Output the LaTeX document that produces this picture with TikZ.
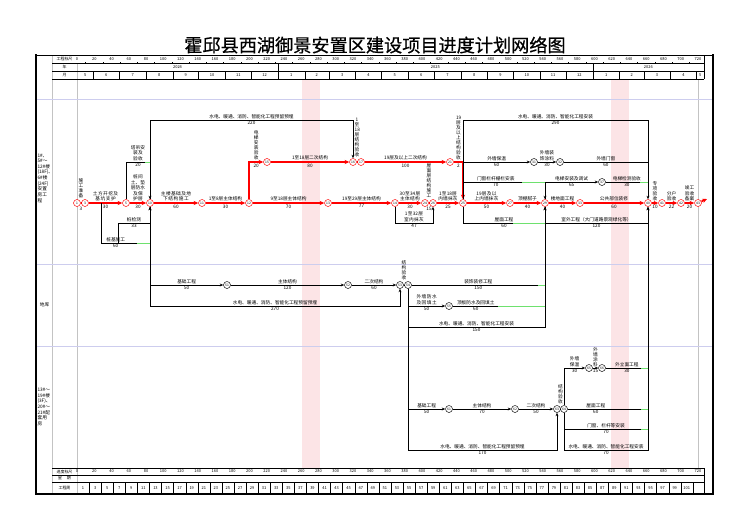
\documentclass[tikz,border=0pt]{standalone}
\usepackage{fontspec}
\setmainfont{Noto Sans CJK SC}
\newfontfamily\titlefont[FakeBold=0.6]{Noto Sans CJK SC}
\XeTeXlinebreaklocale "zh"
\XeTeXlinebreakskip=0pt plus 0.5pt
\usetikzlibrary{arrows.meta,positioning,calc}
\definecolor{netred}{RGB}{255,0,0}
\definecolor{bandpink}{RGB}{252,228,230}
\definecolor{floatgreen}{RGB}{110,225,110}
\definecolor{zoneblue}{RGB}{205,205,238}
\definecolor{gridgray}{RGB}{195,195,195}
\tikzset{
  ev/.style={circle,draw,line width=0.4pt,fill=white,inner sep=0pt,minimum size=0.21cm,font=\fontsize{2.8}{3}\selectfont},
  cev/.style={ev,draw=netred},
  wk/.style={line width=0.5pt,-{Stealth[length=3pt,width=2.4pt]}},
  ln/.style={line width=0.5pt},
  cp/.style={netred,line width=1.4pt,-{Stealth[length=4pt,width=3.6pt]}},
  cpl/.style={netred,line width=1.4pt},
  fl/.style={floatgreen,line width=0.7pt},
  tx/.style={font=\fontsize{4}{4.8}\selectfont,inner sep=0.7pt,text=black},
  vt/.style={tx,font=\fontsize{4}{4.3}\selectfont,text width=0.14cm,align=center},
  hd/.style={font=\fontsize{3.4}{4}\selectfont,inner sep=0pt},
}
\begin{document}
\begin{tikzpicture}[x=0.03cm,y=-0.03cm]
  \useasboundingbox (0,0) rectangle (750,530);
  \fill[white] (0,0) rectangle (750,530);
  % Title
  \node[font=\titlefont\fontsize{15.5}{16}\selectfont] (title) at (375,45) {霍邱县西湖御景安置区建设项目进度计划网络图};
  % Holiday bands
  \fill[bandpink] (302,79) rectangle (320,468);
  \fill[bandpink] (611,79) rectangle (629,468);
  % Grid and zones
  \draw[gridgray,line width=0.4pt] (52,55) -- (52,494) (77,63.5) -- (77,494) (698,79) -- (698,468);
  \draw[zoneblue,line width=0.6pt] (36,99) -- (713,99) (36,264) -- (713,264) (36,346) -- (713,346);
  \node[tx,text width=0.42cm,align=left] (z1) at (44.5,178) {1\#、5\#～12\#楼(18F)、6\#楼(24F)安置房工程};
  \node[tx] (z2) at (44.5,305) {地库};
  \node[tx,text width=0.42cm,align=left] (z3) at (44.5,407) {13\#～19\#楼(3F)、20\#～21\#配套用房};
  % Header
  \draw[line width=0.3pt] (52,63.5) -- (704,63.5) (52,71) -- (704,71) (52,79) -- (704,79) (704,55) -- (704,79);
  \node[hd] at (64.5,59.3) {工程标尺};
  \node[hd] at (64.5,67.3) {年};
  \node[hd] at (64.5,75) {月};
  \foreach \d in {0,20,...,720} \node[hd] at ({77+0.8625*\d},59.3) {\d};
  \foreach \d in {10,30,...,710} \draw[line width=0.3pt] ({77+0.8625*\d},63.5) -- ++(0,-1.4);
  \draw[line width=0.3pt] (278,63.5) -- (278,71) (592.8,63.5) -- (592.8,71);
  \node[hd] at (177.5,67.3) {2024};
  \node[hd] at (435.4,67.3) {2025};
  \node[hd] at (648.4,67.3) {2026};
  \foreach \a/\b/\m in {77/93.4/5, 93.4/119.3/6, 119.3/146/7, 146/172.7/8, 172.7/198.6/9, 198.6/225.4/10, 225.4/251.2/11, 251.2/278/12, 278/304.7/1, 304.7/328.9/2, 328.9/355.6/3, 355.6/381.5/4, 381.5/408.2/5, 408.2/434.1/6, 434.1/460.8/7, 460.8/487.6/8, 487.6/513.4/9, 513.4/540.2/10, 540.2/566/11, 566/592.8/12, 592.8/619.5/1, 619.5/643.7/2, 643.7/670.4/3, 670.4/696.3/4, 696.3/704/5}{
    \draw[line width=0.3pt] (\b,71) -- (\b,79);
    \node[hd] at ({(\a+\b)/2},75) {\m};
  }
  % Footer
  \draw[line width=0.3pt] (52,468) -- (704,468) (52,475) -- (704,475) (52,482) -- (704,482) (704,468) -- (704,494);
  \node[hd] at (64.5,471.5) {进度标尺};
  \node[hd] at (64.5,478.5) {星\hspace{4pt}期};
  \node[hd] at (64.5,488) {工程周};
  \foreach \d in {0,20,...,720} \node[hd] at ({77+0.8625*\d},471.5) {\d};
  \foreach \k in {0,...,50}{
    \pgfmathtruncatemacro\wn{2*\k+1}
    \draw[line width=0.3pt] ({77+12.075*(\k+1)},482) -- ++(0,12);
    \node[hd] at ({77+12.075*(\k+0.5)},488) {\wn};
  }
  % Frame
  \draw[line width=0.4pt] (36,55) -- (713,55);
  \draw[line width=1.6pt] (36,54) -- (36,494) -- (713,494) -- (713,54);
  % Critical events
  \node[cev] (c1) at (77,203) {1};
  \node[cev] (c3) at (85,203) {3};
  \node[cev] (c5) at (126,203) {5};
  \node[cev] (c10) at (150,203) {10};
  \node[cev] (c11) at (202,203) {11};
  \node[cev] (c12) at (249,203) {12};
  \node[cev] (c15) at (267,162) {15};
  \node[cev] (c16) at (353,162) {16};
  \node[cev] (c17) at (361,162) {17};
  \node[cev] (c13) at (328,203) {13};
  \node[cev] (c14) at (395,203) {14};
  \node[cev] (c24) at (425,203) {24};
  \node[cev] (c26) at (433,203) {26};
  \node[cev] (c21) at (450,162) {21};
  \node[cev] (c25) at (463,203) {25};
  \node[cev] (c27) at (510,203) {27};
  \node[cev] (c29) at (545,203) {29};
  \node[cev] (c33) at (580,203) {33};
  \node[cev] (c40) at (648,203) {40};
  \node[cev] (c41) at (662,203) {41};
  \node[cev] (c42) at (681,203) {42};
  \node[cev] (c43) at (698,203) {43};
  \coordinate (fin) at (707,199);
  % Other events
  \node[ev] (e31) at (534,162) {31};
  \node[ev] (e32) at (560,162) {32};
  \node[ev] (e37) at (602,182) {37};
  \node[ev] (b51) at (227,285) {51};
  \node[ev] (b52) at (348,285) {52};
  \node[ev] (b53) at (400,285) {53};
  \node[ev] (b54) at (408,285) {54};
  \node[ev] (b55) at (449,306) {55};
  \node[ev] (d61) at (449,409) {61};
  \node[ev] (d62) at (515,409) {62};
  \node[ev] (d63) at (557,409) {63};
  \node[ev] (d64) at (564,409) {64};
  \node[ev] (d65) at (589,368) {65};
  \node[ev] (d66) at (602,368) {66};
  \coordinate (p1) at (101,203);
  \coordinate (p2) at (118,243);
  % Critical path
  \draw[cpl] (c1) -- node[vt,above=3pt]{施工准备} node[tx,below=2.5pt]{3} (c3);
  \draw[cp] (c3) -- node[tx,above,text width=1.15cm,align=center]{土方开挖及基坑支护} node[tx,below]{30} (c5);
  \draw[cp] (c5) -- node[tx,above,text width=0.45cm,align=center]{桩间土、垫层防水及保护层} node[tx,below]{30} (c10);
  \draw[cp] (c10) -- node[tx,above,text width=1.3cm,align=center]{主楼基础及地下结构施工} node[tx,below]{60} (c11);
  \draw[cp] (c11) -- node[tx,above]{1至8层主体结构} node[tx,below]{30} (c12);
  \draw[cp] (c12) |- node[vt,above,pos=0.75]{电梯安装验收} node[tx,below,pos=0.75]{20} (c15);
  \draw[cp] (c15) -- node[tx,above]{1至18层二次结构} node[tx,below]{80} (c16);
  \draw[cpl] (c16) -- node[vt,above=3pt]{1至18层结构验收} (c17);
  \draw[cp] (c12) -- node[tx,above]{9至18层主体结构} node[tx,below]{70} (c13);
  \draw[cp] (c13) -- node[tx,above]{19至29层主体结构} node[tx,below]{77} (c14);
  \draw[cp] (c14) -- node[tx,above,text width=0.85cm,align=center]{30至34层主体结构} node[tx,below]{30} (c24);
  \draw[cpl] (c24) -- node[vt,above=3pt]{屋面层结构施工} node[tx,below=2.5pt]{15} (c26);
  \draw[cp] (c26) -- node[tx,above,text width=0.75cm,align=center]{1至18层内墙抹灰} node[tx,below]{25} (c25);
  \draw[cp] (c17) -- node[tx,above]{19层及以上二次结构} node[tx,below]{100} (c21);
  \draw[cp] (c21) -| node[vt,above,pos=0.25]{19层及以上结构验收} node[tx,below,pos=0.25]{2} (c25);
  \draw[cp] (c25) -- node[tx,above,text width=0.85cm,align=center]{19层及以上内墙抹灰} node[tx,below]{50} (c27);
  \draw[cp] (c27) -- node[tx,above]{顶棚腻子} node[tx,below]{40} (c29);
  \draw[cp] (c29) -- node[tx,above]{楼地面工程} node[tx,below]{40} (c33);
  \draw[cp] (c33) -- node[tx,above]{公共部位装修} node[tx,below]{60} (c40);
  \draw[cp] (c40) -- node[vt,above]{专项验收} node[tx,below]{10} (c41);
  \draw[cp] (c41) -- node[tx,above,text width=0.3cm,align=center]{分户验收} node[tx,below]{22} (c42);
  \draw[cp] (c42) -- node[tx,above,text width=0.3cm,align=center]{竣工验收备案} node[tx,below]{20} (c43);
  \draw[cp] (c43) -- (fin);
  % Main buildings, other works
  \draw[wk] (p1) |- node[tx,above,pos=0.65]{桩基施工} node[tx,below,pos=0.65]{60} (150,243) -- (c10);
  \draw[wk] (p2) |- node[tx,above,pos=0.75]{桩检测} node[tx,below,pos=0.75]{33} (150,223) -- (c10);
  \draw[wk] (c5) |- node[tx,above,pos=0.75,text width=0.45cm,align=center]{塔吊安装及验收} node[tx,below,pos=0.75]{20} (150,162) -- (c10);
  \draw[wk] (c10) |- node[tx,above,pos=0.75]{水电、暖通、消防、智能化工程预留预埋} node[tx,below,pos=0.75]{220} (353,120) -- (c16);
  \draw[wk] (c14) |- node[tx,above,pos=0.75,text width=0.85cm,align=center]{1至32层室内抹灰} node[tx,below,pos=0.75]{47} (433,223) -- (c26);
  \draw[wk] (c25) |- node[tx,above,pos=0.75]{水电、暖通、消防、智能化工程安装} node[tx,below,pos=0.75]{290} (648,120) -- (c40);
  \draw[wk] (c25) |- node[tx,above,pos=0.75]{外墙保温} node[tx,below,pos=0.75]{60} (e31);
  \draw[wk] (e31) -- node[tx,above,text width=0.45cm,align=center]{外墙装饰涂料} node[tx,below]{30} (e32);
  \draw[ln] (e32) -- node[tx,above]{外墙门窗} node[tx,below]{60} (648,162);
  \draw[wk] (c25) |- node[tx,above,pos=0.7]{门窗栏杆栅栏安装} node[tx,below,pos=0.7]{70} (545,182) -- (c29);
  \draw[wk] (c25) |- node[tx,above,pos=0.75]{屋面工程} node[tx,below,pos=0.75]{60} (545,223) -- (c29);
  \draw[wk] (c29) |- node[tx,above,pos=0.75]{电梯安装及调试} node[tx,below,pos=0.75]{65} (e37);
  \draw[ln] (e37) -- node[tx,above]{电梯检测验收} node[tx,below]{30} (648,182);
  \draw[wk] (c29) |- node[tx,above,pos=0.75]{室外工程（大门道路景观绿化等）} node[tx,below,pos=0.75]{120} (648,223) -- (c40);
  % Basement
  \draw[wk] (c10) |- node[tx,above,pos=0.75]{基础工程} node[tx,below,pos=0.75]{50} (b51);
  \draw[wk] (b51) -- node[tx,above]{主体结构} node[tx,below]{120} (b52);
  \draw[wk] (b52) -- node[tx,above]{二次结构} node[tx,below]{60} (b53);
  \draw[ln] (b53) -- node[vt,above=3pt]{结构验收} (b54);
  \draw[wk] (c10) |- node[tx,above,pos=0.75]{水电、暖通、消防、智能化工程预留预埋} node[tx,below,pos=0.75]{270} (400,306) -- (b53);
  \draw[ln] (b54) -- node[tx,above]{装饰装修工程} node[tx,below]{150} (545,285);
  \draw[wk] (b54) |- node[tx,above,pos=0.75,text width=1.05cm,align=center]{外墙防水及回填土} node[tx,below,pos=0.75]{50} (b55);
  \draw[ln] (b55) -- node[tx,above,pos=0.25]{顶板防水及回填土} node[tx,below,pos=0.25]{60} (545,306);
  \draw[wk] (b54) |- node[tx,above,pos=0.75]{水电、暖通、消防、智能化工程安装} node[tx,below,pos=0.75]{150} (545,327) -- (c29);
  % Low-rise buildings
  \draw[wk] (b54) |- node[tx,above,pos=0.75]{基础工程} node[tx,below,pos=0.75]{50} (d61);
  \draw[wk] (d61) -- node[tx,above]{主体结构} node[tx,below]{70} (d62);
  \draw[wk] (d62) -- node[tx,above]{二次结构} node[tx,below]{50} (d63);
  \draw[ln] (d63) -- node[vt,above=3pt]{结构验收} (d64);
  \draw[wk] (b54) |- node[tx,above,pos=0.75]{水电、暖通、消防、智能化工程预留预埋} node[tx,below,pos=0.75]{170} (557,450) -- (d63);
  \draw[wk] (d64) |- node[tx,above,pos=0.75,text width=0.45cm,align=center]{外墙保温} node[tx,below,pos=0.75]{30} (d65);
  \draw[wk] (d65) -- node[vt,above]{外墙涂料} node[tx,below]{15} (d66);
  \draw[ln] (d66) -- node[tx,above]{外立面工程} node[tx,below]{30} (648,368);
  \draw[ln] (d64) -- node[tx,above,pos=0.35]{屋面工程} node[tx,below,pos=0.35]{60} (648,409);
  \draw[ln] (d64) |- node[tx,above,pos=0.75]{门窗、栏杆等安装} node[tx,below,pos=0.75]{70} (648,429);
  \draw[wk] (d64) |- node[tx,above,pos=0.75]{水电、暖通、消防、智能化工程安装} node[tx,below,pos=0.75]{70} (648,450) -- (c40);
  % Free float
  \foreach \xa/\xb/\yy in {137/150/243, 145/150/162, 522/544.5/182, 513/544.5/223, 640/647.5/182, 538/544.5/285, 498/544.5/306, 641/647.5/368, 641/647.5/409, 641/647.5/429}
    \draw[fl] (\xa,\yy) -- (\xb,\yy);
\end{tikzpicture}
\end{document}
